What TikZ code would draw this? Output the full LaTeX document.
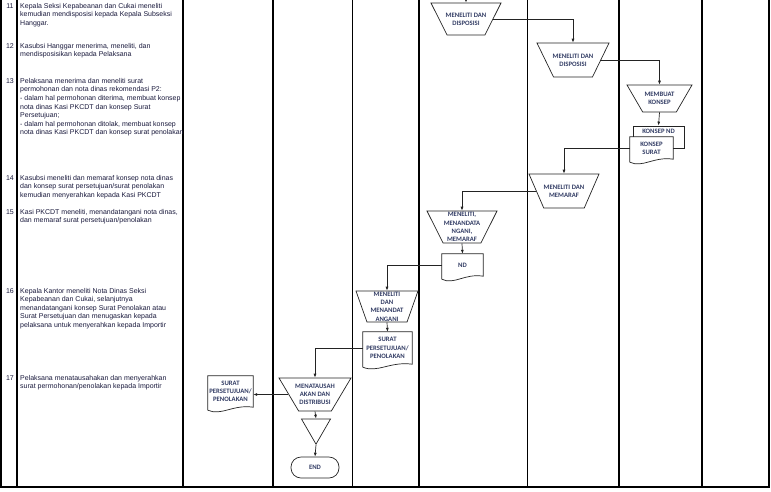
\documentclass[tikz,border=0pt]{standalone}
\usepackage{fontspec}
\setmainfont{Liberation Sans}
\newfontfamily\kotakfont{Carlito}
\usetikzlibrary{shapes.geometric, calc, arrows.meta}
\definecolor{teks}{RGB}{25,25,60}
\definecolor{kotak}{RGB}{50,60,100}
\definecolor{garis}{RGB}{35,35,35}
\newcommand{\dokumen}[1]{%
  \draw[tepi] ($(#1.south west)+(0,3)$) -- (#1.north west) -- (#1.north east) -- (#1.south east)
    .. controls ($(#1.south west)!0.55!(#1.south east)+(0,-3)$) and ($(#1.south west)!0.3!(#1.south east)+(0,9)$) .. ($(#1.south west)+(0,3)$);}
\begin{document}
\begin{tikzpicture}[x=1pt,y=-1pt,
    ket/.style={anchor=north west,align=left,inner sep=0pt,text=teks,font=\fontsize{7}{8.6}\selectfont},
    nomor/.style={anchor=base,inner sep=0pt,text=teks,font=\fontsize{7}{8.6}\selectfont},
    kotakteks/.style={align=center,inner sep=0pt,text=kotak,font=\kotakfont\bfseries\fontsize{6.7}{8.3}\selectfont},
    tepi/.style={draw=garis,line width=.7pt},
    proses/.style={tepi,trapezium,trapezium angle=67,shape border rotate=180,trapezium stretches=true,inner sep=1pt},
    dok/.style={fill=white,inner xsep=5pt,inner ysep=0pt,align=left,kotakteks},
    panah/.style={draw=garis,line width=.7pt,-{Latex[length=4pt,width=3pt]}},
    lajur/.style={line width=2pt},
    lajurtipis/.style={line width=1pt}]
    \useasboundingbox (0,0) rectangle (771,491);
    % kolom
    \draw[lajur,line width=2.5pt] (1,0) -- (1,487);
    \draw[lajur] (17,0) -- (17,487);
    \draw[lajur] (183,0) -- (183,487);
    \draw[lajur] (273,0) -- (273,487);
    \draw[lajurtipis] (352,0) -- (352,487);
    \draw[lajur] (419,0) -- (419,487);
    \draw[lajurtipis] (527,0) -- (527,487);
    \draw[lajur] (619,0) -- (619,487);
    \draw[lajur] (702,0) -- (702,487);
    \draw[lajur] (769,0) -- (769,487);
    \draw[lajur] (0,487) -- (770,487);
    % keterangan
    \node[nomor] (n11) at (10,8.2) {11};
    \node[ket] (k11) at (20,3.1) {Kepala Seksi Kepabeanan dan Cukai meneliti\\kemudian mendisposisi kepada Kepala Subseksi\\Hanggar.};
    \node[nomor] (n12) at (10,48.2) {12};
    \node[ket] (k12) at (20,43.1) {Kasubsi Hanggar menerima, meneliti, dan\\mendisposisikan kepada Pelaksana};
    \node[nomor] (n13) at (10,83.2) {13};
    \node[ket] (k13) at (20,78.1) {Pelaksana menerima dan meneliti surat\\permohonan dan nota dinas rekomendasi P2:\\- dalam hal permohonan diterima, membuat konsep\\nota dinas Kasi PKCDT dan konsep Surat\\Persetujuan;\\- dalam hal permohonan ditolak, membuat konsep\\nota dinas Kasi PKCDT dan konsep surat penolakan};
    \node[nomor] (n14) at (10,180.2) {14};
    \node[ket] (k14) at (20,175.1) {Kasubsi meneliti dan memaraf konsep nota dinas\\dan konsep surat persetujuan/surat penolakan\\kemudian menyerahkan kepada Kasi PKCDT};
    \node[nomor] (n15) at (10,214.2) {15};
    \node[ket] (k15) at (20,209.1) {Kasi PKCDT meneliti, menandatangani nota dinas,\\dan memaraf surat persetujuan/penolakan};
    \node[nomor] (n16) at (10,293) {16};
    \node[ket] (k16) at (20,287.9) {Kepala Kantor meneliti Nota Dinas Seksi\\Kepabeanan dan Cukai, selanjutnya\\menandatangani konsep Surat Penolakan atau\\Surat Persetujuan dan menugaskan kepada\\pelaksana untuk menyerahkan kepada Importir};
    \node[nomor] (n17) at (10,380) {17};
    \node[ket] (k17) at (20,374.9) {Pelaksana menatausahakan dan menyerahkan\\surat permohonan/penolakan kepada Importir};
    % bagan alir
    \node[proses,minimum width=70,minimum height=32,label={[kotakteks]center:{MENELITI DAN\\DISPOSISI}}] (md1) at (466,19) {};
    \node[proses,minimum width=72,minimum height=34,label={[kotakteks]center:{MENELITI DAN\\DISPOSISI}}] (md2) at (573,60) {};
    \node[proses,trapezium angle=65,minimum width=65,minimum height=27,label={[kotakteks]center:{MEMBUAT\\KONSEP}}] (mk) at (659.5,98.5) {};
    \node[tepi,fill=white,minimum width=51,minimum height=22,inner sep=0pt,label={[kotakteks,anchor=north,yshift=-3pt]north:KONSEP ND}] (knd) at (658.5,137) {};
    \node[dok,text width=43,minimum height=22] (ks) at (651.5,148) {KONSEP\\SURAT};
    \dokumen{ks}
    \node[proses,trapezium angle=70,minimum width=70,minimum height=34,label={[kotakteks]center:{MENELITI DAN\\MEMARAF}}] (mm) at (564,191) {};
    \node[proses,minimum width=70,minimum height=32,label={[kotakteks]center:{MENELITI,\\MENANDATA\\NGANI,\\MEMARAF}}] (mmm) at (462,227) {};
    \node[dok,align=center,text width=41,minimum height=22] (nd) at (462.5,265) {ND};
    \dokumen{nd}
    \node[proses,trapezium angle=74.7,minimum width=62,minimum height=31,label={[kotakteks]center:{MENELITI\\DAN\\MENANDAT\\ANGANI}}] (mt) at (387,306.5) {};
    \node[dok,text width=49,minimum height=32] (sp1) at (387.5,348) {SURAT\\PERSETUJUAN/\\PENOLAKAN};
    \dokumen{sp1}
    \node[proses,trapezium angle=59,minimum width=72,minimum height=33,label={[kotakteks]center:{MENATAUSAH\\AKAN DAN\\DISTRIBUSI}}] (mtd) at (315,394.5) {};
    \node[dok,text width=45,minimum height=31] (sp2) at (230.5,391.5) {SURAT\\PERSETUJUAN/\\PENOLAKAN};
    \dokumen{sp2}
    \node[tepi,regular polygon,regular polygon sides=3,shape border rotate=180,minimum size=33.5,inner sep=0pt] (seg) at (316,427.4) {};
    \node[tepi,kotakteks,rounded corners=10,minimum width=48,minimum height=21] (selesai) at (315,467.5) {END};
    % alur
    \coordinate (masuk) at (466,0);
    \draw[panah] (masuk) -- (md1.north);
    \draw[panah] (md1.east) -| (md2.north);
    \draw[panah] (md2.east) -| (mk.north);
    \draw[panah] (mk.south) -- (knd.north);
    \draw[panah] (ks.west) -| (mm.north);
    \draw[panah] (mm.west) -| (mmm.north);
    \draw[panah] (mmm.south) -- (nd.north);
    \draw[panah] (nd.west) -| (mt.north);
    \draw[panah] (mt.south) -- (sp1.north);
    \draw[panah] (sp1.west) -| (mtd.north);
    \draw[panah] (mtd.west) -- (mtd.west -| sp2.east);
    \draw[panah] (mtd.south) -- (seg.side 2);
    \draw[panah] (seg.corner 1) -- (selesai.north);
\end{tikzpicture}
\end{document}
